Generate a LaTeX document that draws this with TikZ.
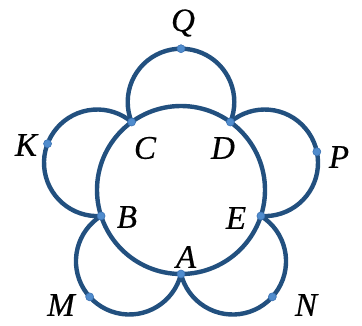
\documentclass[tikz,border=0pt]{standalone}
\usepackage{fontspec}
\newfontfamily\labfont[FakeBold=0.5]{Liberation Serif}
\usetikzlibrary{calc}
\begin{document}
\begin{tikzpicture}[x=1pt,y=1pt,
  curve/.style={draw=lineblue,line width=4.4pt},
  dot/.style={circle,fill=dotblue,draw=dotedge,line width=0.6pt,inner sep=0pt,minimum size=8pt},
  lab/.style={font=\labfont\itshape\fontsize{33}{36}\selectfont,inner sep=0pt}]
\definecolor{lineblue}{RGB}{34,80,127}
\definecolor{dotblue}{RGB}{80,140,205}
\definecolor{dotedge}{RGB}{60,115,180}
\useasboundingbox (0,0) rectangle (362,-325);
\def\R{84}\def\dd{88}\def\rr{53.3}\def\al{112.1}
\coordinate (O) at (181,-190);
\coordinate (A) at ($(O)+(270:\R)$);
\coordinate (B) at ($(O)+(198:\R)$);
\coordinate (C) at ($(O)+(126:\R)$);
\coordinate (D) at ($(O)+(54:\R)$);
\coordinate (E) at ($(O)+(342:\R)$);
\coordinate (OQ) at ($(O)+(90:\dd)$);
\coordinate (OP) at ($(O)+(18:\dd)$);
\coordinate (ON) at ($(O)+(306:\dd)$);
\coordinate (OM) at ($(O)+(234:\dd)$);
\coordinate (OK) at ($(O)+(162:\dd)$);
\coordinate (Q) at ($(OQ)+(90:\rr)$);
\coordinate (P) at ($(OP)+(12:\rr)$);
\coordinate (N) at ($(ON)+(318:\rr)$);
\coordinate (M) at ($(OM)+(222:\rr)$);
\coordinate (K) at ($(OK)+(159:\rr)$);
\draw[curve] (O) circle[radius=\R];
\foreach \p/\f in {C/90,D/18,E/306,A/234,B/162}{
  \draw[curve] (\p) arc[start angle=\f+\al, end angle=\f-\al, radius=\rr];
}
\foreach \p in {A,B,C,D,E,K,M,N,P,Q}{
  \node[dot] at (\p) {};
}
\node[lab] (lQ) at (183,-23) {Q};
\node[lab] (lK) at (26,-145) {K};
\node[lab] (lC) at (145,-148) {C};
\node[lab] (lD) at (223,-148) {D};
\node[lab] (lP) at (339,-157) {P};
\node[lab] (lB) at (127,-217) {B};
\node[lab] (lE) at (236,-218) {E};
\node[lab] (lA) at (186,-257) {A};
\node[lab] (lM) at (61,-305) {M};
\node[lab] (lN) at (306,-305) {N};
\end{tikzpicture}
\end{document}
